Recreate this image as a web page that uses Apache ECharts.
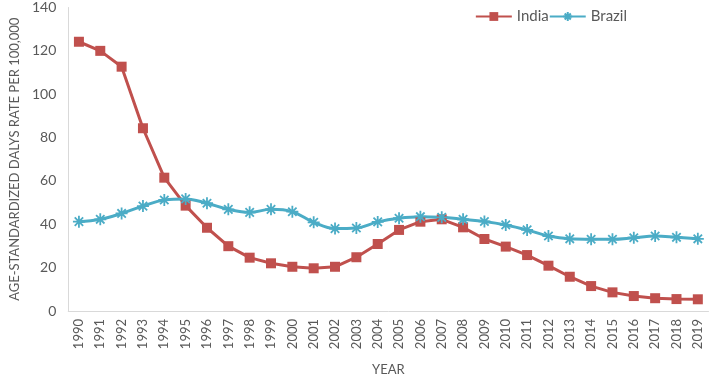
<!DOCTYPE html>
<html>
<head>
<meta charset="utf-8">
<script src="https://cdn.jsdelivr.net/npm/echarts@6/dist/echarts.min.js"></script>
<style>
  html, body { margin: 0; padding: 0; background: #fff; }
  #chart { width: 709px; height: 381px; }
</style>
</head>
<body>
<div id="chart"></div>
<script>
const years = ['1990', '1991', '1992', '1993', '1994', '1995', '1996', '1997', '1998', '1999',
  '2000', '2001', '2002', '2003', '2004', '2005', '2006', '2007', '2008', '2009',
  '2010', '2011', '2012', '2013', '2014', '2015', '2016', '2017', '2018', '2019']

const india = [124.2, 120.0, 112.7, 84.3, 61.5, 48.6, 38.4, 29.9, 24.6, 22.0,
  20.4, 19.7, 20.4, 24.8, 30.9, 37.4, 41.2, 42.3, 38.6, 33.2,
  29.7, 25.8, 20.9, 15.8, 11.5, 8.6, 6.9, 5.9, 5.5, 5.4]

const brazil = [41.2, 42.3, 45.0, 48.4, 51.2, 51.7, 49.7, 46.9, 45.5, 46.9,
  45.8, 40.9, 38.0, 38.3, 41.1, 42.8, 43.5, 43.2, 42.3, 41.3,
  39.7, 37.4, 34.6, 33.3, 33.1, 33.1, 33.8, 34.6, 34.0, 33.3]

const chart = echarts.init(document.getElementById('chart'))

const textColor = '#595959'
const fontFamily = 'Lato, "Noto Sans", sans-serif'

// asterisk marker like Excel's star
const starPath = 'path://M0,5 L10,5 M5,0 L5,10 M1.5,1.5 L8.5,8.5 M8.5,1.5 L1.5,8.5'

const option = {
  animation: false,
  textStyle: { fontFamily: fontFamily },
  legend: {
    top: 4,
    right: 77,
    itemWidth: 36,
    itemHeight: 11,
    itemGap: 0,
    textStyle: { color: textColor, fontSize: 15, fontFamily: fontFamily },
    data: ['India', 'Brazil']
  },
  grid: {
    left: 60,
    right: 0.5,
    top: 7.5,
    bottom: 70
  },
  xAxis: {
    type: 'category',
    data: years,
    boundaryGap: true,
    name: 'YEAR',
    nameLocation: 'middle',
    nameGap: 52,
    nameTextStyle: { color: textColor, fontSize: 13 },
    axisLine: { lineStyle: { color: '#d9d9d9', width: 1 } },
    axisTick: { show: false },
    axisLabel: {
      rotate: 90,
      interval: 0,
      color: textColor,
      fontSize: 13,
      margin: 8
    }
  },
  yAxis: {
    type: 'value',
    min: 0,
    max: 140,
    interval: 20,
    name: 'AGE-STANDARDIZED DALYS RATE PER 100,000',
    nameLocation: 'middle',
    nameGap: 40,
    nameTextStyle: { color: textColor, fontSize: 13 },
    axisLine: { show: true, lineStyle: { color: '#d9d9d9', width: 1 } },
    axisTick: { show: false },
    splitLine: { show: false },
    axisLabel: { color: textColor, fontSize: 14, margin: 12 }
  },
  series: [
    {
      name: 'India',
      type: 'line',
      data: india,
      symbol: 'rect',
      symbolSize: 10,
      lineStyle: { color: '#C0504D', width: 3 },
      itemStyle: { color: '#C0504D' }
    },
    {
      name: 'Brazil',
      type: 'line',
      data: brazil,
      smooth: 0.4,
      symbol: starPath,
      symbolSize: 12,
      lineStyle: { color: '#4BACC6', width: 3 },
      itemStyle: { color: 'rgba(0,0,0,0)', borderColor: '#4BACC6', borderWidth: 1.8 }
    }
  ]
}

chart.setOption(option)
</script>
</body>
</html>
